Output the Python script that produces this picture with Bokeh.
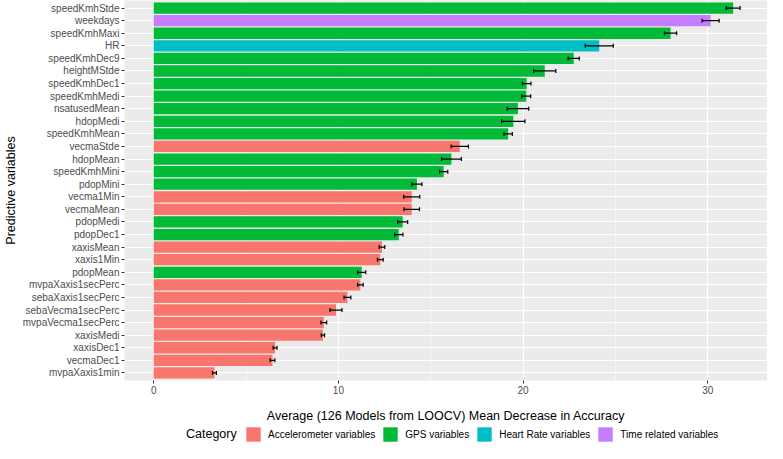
from bokeh.plotting import figure
from bokeh.layouts import column
from bokeh.models import (ColumnDataSource, FactorRange, Range1d, Whisker, TeeHead,
                          Legend, LegendItem, SingleIntervalTicker)
from bokeh.embed import file_html
from bokeh.resources import INLINE

# ---- data (top to bottom as shown) ----
variables = ["speedKmhStde", "weekdays", "speedKmhMaxi", "HR", "speedKmhDec9", "heightMStde",
             "speedKmhDec1", "speedKmhMedi", "nsatusedMean", "hdopMedi", "speedKmhMean",
             "vecmaStde", "hdopMean", "speedKmhMini", "pdopMini", "vecma1Min", "vecmaMean",
             "pdopMedi", "pdopDec1", "xaxisMean", "xaxis1Min", "pdopMean",
             "mvpaXaxis1secPerc", "sebaXaxis1secPerc", "sebaVecma1secPerc",
             "mvpaVecma1secPerc", "xaxisMedi", "xaxisDec1", "vecmaDec1", "mvpaXaxis1min"]
importance = [31.37, 30.15, 27.98, 24.12, 22.74, 21.17, 20.19, 20.17, 19.72, 19.47, 19.19,
              16.57, 16.12, 15.70, 14.25, 13.97, 13.97, 13.48, 13.27, 12.36, 12.27, 11.26,
              11.19, 10.49, 9.87, 9.21, 9.16, 6.57, 6.43, 3.29]
error = [0.375, 0.46, 0.33, 0.76, 0.30, 0.60, 0.235, 0.24, 0.585, 0.63, 0.225,
         0.47, 0.535, 0.22, 0.27, 0.435, 0.42, 0.27, 0.225, 0.15, 0.155, 0.22,
         0.15, 0.185, 0.325, 0.155, 0.09, 0.105, 0.13, 0.105]
ACC, GPS, HRV, TIME = ("Accelerometer variables", "GPS variables",
                       "Heart Rate variables", "Time related variables")
category = [GPS, TIME, GPS, HRV, GPS, GPS, GPS, GPS, GPS, GPS, GPS,
            ACC, GPS, GPS, GPS, ACC, ACC, GPS, GPS, ACC, ACC, GPS,
            ACC, ACC, ACC, ACC, ACC, ACC, ACC, ACC]
category_order = [ACC, GPS, HRV, TIME]
category_colors = ["#F8766D", "#00BA38", "#00BFC4", "#C77CFF"]
legend_title = "Category"
x_ticks = [0, 10, 20, 30]

FONT = "Liberation Sans"
W = 767

factors = list(reversed(variables))
p = figure(width=W, height=425, output_backend="svg", toolbar_location=None,
           y_range=FactorRange(factors=factors, range_padding=0.1,
                               range_padding_units="absolute"),
           x_range=Range1d(-1.58, 33.23),
           min_border_left=10, min_border_right=0, min_border_top=0, min_border_bottom=0)
p.background_fill_color = "#EBEBEB"
p.border_fill_color = "white"
p.outline_line_color = None

for cat, col in zip(category_order, category_colors):
    idx = [i for i, c in enumerate(category) if c == cat]
    src = ColumnDataSource(dict(var=[variables[i] for i in idx],
                                val=[importance[i] for i in idx]))
    p.hbar(y="var", left=0, right="val", height=0.9, source=src,
           fill_color=col, line_color=None)

esrc = ColumnDataSource(dict(var=variables,
                             lo=[v - e for v, e in zip(importance, error)],
                             hi=[v + e for v, e in zip(importance, error)]))
w = Whisker(source=esrc, base="var", lower="lo", upper="hi", dimension="width",
            line_color="black", line_width=1.2, level="annotation",
            lower_head=TeeHead(size=4, line_color="black", line_width=1.2),
            upper_head=TeeHead(size=4, line_color="black", line_width=1.2))
p.add_layout(w)

# grids
p.xgrid.ticker = SingleIntervalTicker(interval=10, num_minor_ticks=2)
p.xaxis.ticker = x_ticks
p.xgrid.grid_line_color = "white"
p.xgrid.grid_line_width = 1.1
p.xgrid.minor_grid_line_color = "white"
p.xgrid.minor_grid_line_width = 0.55
p.ygrid.grid_line_color = "white"
p.ygrid.grid_line_width = 1.1

# axes
for ax in (p.xaxis[0], p.yaxis[0]):
    ax.axis_line_color = None
    ax.major_tick_line_color = "#333333"
    ax.major_tick_out = 3
    ax.major_tick_in = 0
    ax.minor_tick_line_color = None
    ax.major_label_text_color = "#4D4D4D"
    ax.major_label_text_font = FONT
    ax.major_label_text_font_size = "10px"
    ax.axis_label_text_font = FONT
    ax.axis_label_text_font_size = "12.5px"
    ax.axis_label_text_font_style = "normal"
    ax.axis_label_text_color = "black"
    ax.major_label_standoff = 2
p.xaxis.axis_label = "Average (126 Models from LOOCV) Mean Decrease in Accuracy"
p.yaxis.axis_label = "Predictive variables"
p.xaxis.axis_label_standoff = 12
p.yaxis.axis_label_standoff = 2

# ---- legend strip below the plot (frame aligned with main frame) ----
lp = figure(width=W, height=18, output_backend="svg", toolbar_location=None,
            x_range=Range1d(0, 1), y_range=Range1d(0, 1),
            x_axis_location=None, y_axis_location=None,
            min_border_left=0, min_border_right=0, min_border_top=0, min_border_bottom=0)
lp.outline_line_color = None
lp.grid.visible = False
# off-range placeholder renderers that only feed the legend keys
title_r = lp.hbar(y=[-10], left=[0], right=[1], height=1, fill_alpha=0, line_alpha=0)
key_r = {}
for cat, col in zip(category_order, category_colors):
    key_r[cat] = lp.hbar(y=[-10], left=[0], right=[1], height=1,
                         fill_color=col, line_color=None)

title_legend = Legend(items=[LegendItem(label=legend_title, renderers=[title_r])],
                      location=(62, 0), orientation="horizontal",
                      label_text_font=FONT, label_text_font_size="12.5px",
                      label_text_color="black",
                      glyph_width=0, glyph_height=18, label_height=18, label_standoff=0,
                      padding=0, margin=0, border_line_color=None, background_fill_alpha=0)
legend = Legend(items=[LegendItem(label=c, renderers=[key_r[c]]) for c in category_order],
                location=(120, 0), orientation="horizontal",
                label_text_font=FONT, label_text_font_size="10px",
                label_text_color="black",
                glyph_width=18, glyph_height=18, label_height=18,
                label_standoff=6, spacing=6,
                padding=0, margin=0, border_line_color=None, background_fill_alpha=0)
lp.add_layout(title_legend)
lp.add_layout(legend)

layout = column(p, lp, spacing=0)
open("out.html", "w").write(file_html(layout, INLINE))
